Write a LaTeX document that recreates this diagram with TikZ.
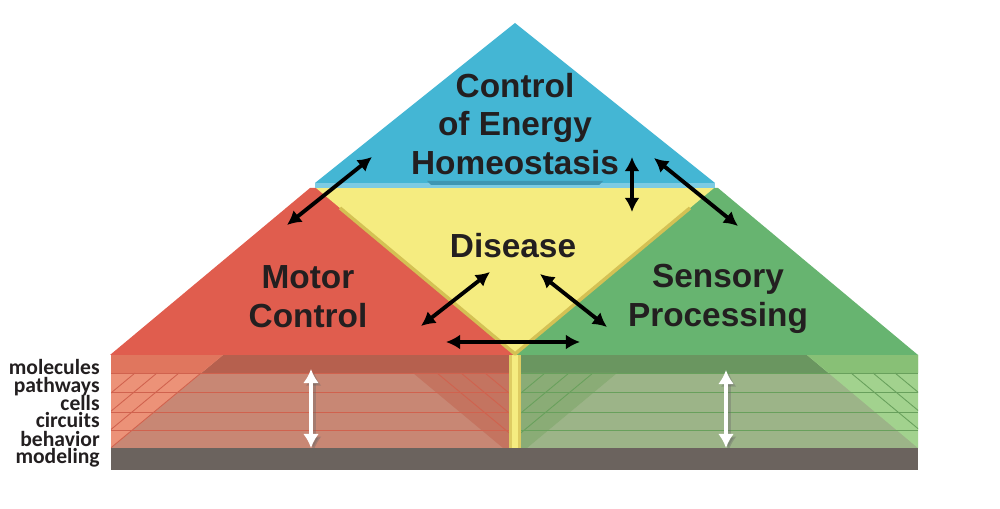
\documentclass[tikz,border=0pt]{standalone}
\usepackage{fontspec}
\setmainfont{Liberation Sans}
\newfontfamily\layerfont{Carlito}
\usetikzlibrary{arrows.meta}
\definecolor{ink}{RGB}{35,31,32}
\definecolor{energyblue}{RGB}{68,182,212}
\definecolor{energystrip}{RGB}{125,203,226}
\definecolor{energydark}{RGB}{62,150,178}
\definecolor{diseaseyellow}{RGB}{245,236,128}
\definecolor{diseaseedge}{RGB}{212,193,84}
\definecolor{diseasebar}{RGB}{222,204,98}
\definecolor{motorred}{RGB}{224,93,78}
\definecolor{motorband}{RGB}{182,96,78}
\definecolor{motorrow}{RGB}{200,135,116}
\definecolor{motorlight}{RGB}{236,146,120}
\definecolor{motorlightband}{RGB}{224,118,94}
\definecolor{motorside}{RGB}{196,116,96}
\definecolor{motorline}{RGB}{208,98,78}
\definecolor{sensorygreen}{RGB}{103,180,112}
\definecolor{sensoryband}{RGB}{106,150,96}
\definecolor{sensoryrow}{RGB}{156,180,136}
\definecolor{sensorylight}{RGB}{162,210,142}
\definecolor{sensorylightband}{RGB}{136,192,118}
\definecolor{sensoryside}{RGB}{138,172,118}
\definecolor{sensoryline}{RGB}{104,160,92}
\definecolor{modelgray}{RGB}{107,99,94}
\begin{document}
\begin{tikzpicture}[x=0.02cm,y=-0.02cm,
    field/.style={font=\fontsize{19}{22.1}\selectfont\bfseries,text=ink,align=center,inner sep=0},
    layer/.style={font=\layerfont\fontsize{12.3}{13}\selectfont\bfseries,text=ink,anchor=base east,inner sep=0},
    link/.style={draw=black,line width=2.2pt,{Latex[length=8pt,width=8.5pt]}-{Latex[length=8pt,width=8.5pt]}},
    scale link/.style={draw=white,line width=2.8pt,{Latex[length=8pt,width=9pt]}-{Latex[length=8pt,width=9pt]}},
    hatch/.style={line width=0.5pt}]
  \useasboundingbox (0,0) rectangle (1000,509);

  % levels under motor control
  \begin{scope}
    \clip (111,355) rectangle (509,448);
    \fill[motorrow] (111,355) rectangle (509,448);
    \fill[motorband] (111,355) rectangle (509,373);
    \fill[motorlight] (111,448) -- (223,355) -- (111,355) -- cycle;
    \fill[motorlightband] (201,373) -- (223,355) -- (111,355) -- (111,373) -- cycle;
    \fill[motorside] (413,373) -- (509,373) -- (509,448) -- (503,448) -- cycle;
    \foreach \x in {135,157,179,201} \draw[hatch,motorline] (\x,373) -- ++(-112,93);
    \foreach \x in {437,461,485} \draw[hatch,motorline] (\x,373) -- ++(112,93);
    \foreach \y in {373,392,412,430} \draw[motorline] (111,\y) -- (509,\y);
  \end{scope}

  % levels under sensory processing
  \begin{scope}
    \clip (521,355) rectangle (918,448);
    \fill[sensoryrow] (521,355) rectangle (918,448);
    \fill[sensoryband] (521,355) rectangle (918,373);
    \fill[sensorylight] (918,448) -- (807,355) -- (918,355) -- cycle;
    \fill[sensorylightband] (829,373) -- (807,355) -- (918,355) -- (918,373) -- cycle;
    \fill[sensoryside] (617,373) -- (521,373) -- (521,448) -- (527,448) -- cycle;
    \foreach \x in {851,873,895} \draw[hatch,sensoryline] (\x,373) -- ++(112,93);
    \foreach \x in {545,569,593} \draw[hatch,sensoryline] (\x,373) -- ++(-112,93);
    \foreach \y in {373,392,412,430} \draw[sensoryline] (521,\y) -- (918,\y);
  \end{scope}

  \fill[diseasebar] (509,355) rectangle (521,448);
  \fill[diseaseyellow] (512,355) rectangle (518,448);
  \fill[modelgray] (111,448) rectangle (918,470);

  % the four fields
  \fill[motorred] (310,188) -- (324,188) -- (515,355) -- (110,355) -- cycle;
  \fill[sensorygreen] (718,188) -- (918,355) -- (515,355) -- (706,188) -- cycle;
  \fill[diseaseyellow] (316,188) -- (714,188) -- (515,354) -- cycle;
  \draw[diseaseedge,line width=2pt,line join=round] (340,208) -- (515,354) -- (690,208);
  \fill[energyblue] (515,23) -- (715,183) -- (315,183) -- cycle;
  \fill[energystrip] (315,183) rectangle (715,188);
  \fill[energydark] (427,181) -- (603,181) -- (599,185) -- (431,185) -- cycle;

  \node[field] (energy) at (515,124) {Control\\of Energy\\Homeostasis};
  \node[field,anchor=base] (disease) at (513,258) {Disease};
  \node[field] (motor) at (308,297) {Motor\\Control};
  \node[field] (sensory) at (718,299) {Sensory\\Processing};

  \node[layer] (molecules) at (100,375) {molecules};
  \node[layer] (pathways) at (100,393) {pathways};
  \node[layer] (cells) at (100,410.5) {cells};
  \node[layer] (circuits) at (100,428) {circuits};
  \node[layer] (behavior) at (100,446) {behavior};
  \node[layer] (modeling) at (100,463.5) {modeling};

  % arrow ends
  \coordinate (motor-up) at (287,225);
  \coordinate (energy-left) at (372,157);
  \coordinate (energy-right) at (654,158);
  \coordinate (sensory-up) at (738,226);
  \coordinate (energy-down) at (632,157);
  \coordinate (disease-up) at (632,212);
  \coordinate (disease-left) at (490,272);
  \coordinate (motor-right) at (421,326);
  \coordinate (disease-right) at (540,274);
  \coordinate (sensory-left) at (607,327);
  \coordinate (motor-low) at (446,342);
  \coordinate (sensory-low) at (580,342);
  \coordinate (motor-top) at (311,369);
  \coordinate (motor-base) at (311,448);
  \coordinate (sensory-top) at (726,370);
  \coordinate (sensory-base) at (726,448);

  \draw[link] (motor-up) -- (energy-left);
  \draw[link] (energy-right) -- (sensory-up);
  \draw[link] (energy-down) -- (disease-up);
  \draw[link] (disease-left) -- (motor-right);
  \draw[link] (disease-right) -- (sensory-left);
  \draw[link] (motor-low) -- (sensory-low);

  \draw[scale link,draw=black!60,opacity=.35,transform canvas={shift={(1.5pt,-1.5pt)}}] (motor-top) -- (motor-base);
  \draw[scale link,draw=black!60,opacity=.35,transform canvas={shift={(1.5pt,-1.5pt)}}] (sensory-top) -- (sensory-base);
  \draw[scale link] (motor-top) -- (motor-base);
  \draw[scale link] (sensory-top) -- (sensory-base);
\end{tikzpicture}
\end{document}
